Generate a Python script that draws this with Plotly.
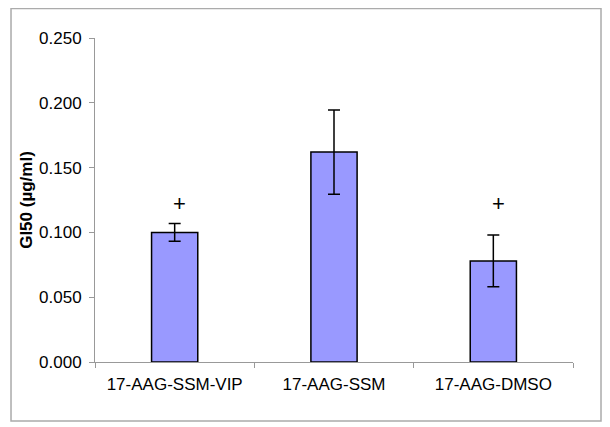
import plotly.graph_objects as go

categories = ["17-AAG-SSM-VIP", "17-AAG-SSM", "17-AAG-DMSO"]
gi50 = [0.100, 0.162, 0.078]
gi50_err = [0.0068, 0.0325, 0.020]
sig_marks = [0.1215, None, 0.1215]
y_ticks = [0.0, 0.05, 0.10, 0.15, 0.20, 0.25]
y_tick_labels = ["0.000", "0.050", "0.100", "0.150", "0.200", "0.250"]

FONT = "Liberation Sans, Arial, sans-serif"

fig = go.Figure()
fig.add_trace(go.Bar(
    x=categories, y=gi50, width=0.29,
    marker=dict(color="#9999FF", line=dict(color="#000000", width=1.5)),
    error_y=dict(type="data", array=gi50_err, visible=True,
                 color="#000000", thickness=1.5, width=6),
    showlegend=False,
))

for c, v in zip(categories, sig_marks):
    if v is not None:
        fig.add_annotation(x=c, y=v, xref="x", yref="y", text="+",
                           showarrow=False, xshift=5, yshift=1,
                           font=dict(family=FONT, size=22, color="#000000"))

fig.add_shape(type="rect", xref="paper", yref="paper",
              x0=-0.1757, x1=1.0586, y0=-0.182, y1=1.091,
              line=dict(color="#ababab", width=1.5), fillcolor="rgba(0,0,0,0)",
              layer="below")

fig.update_layout(
    width=602, height=419,
    margin=dict(l=87, r=37, t=30, b=65, autoexpand=False),
    paper_bgcolor="white", plot_bgcolor="white",
    font=dict(family=FONT, size=17, color="#000000"),
    bargap=0.71,
)
fig.update_xaxes(
    type="category", tickson="boundaries", ticks="outside", ticklen=5,
    tickcolor="#999999", tickwidth=1,
    showline=True, linecolor="#999999", linewidth=1,
    showgrid=False, zeroline=False, automargin=False,
    ticklabelstandoff=7,
    tickfont=dict(family=FONT, size=17, color="#000000"),
    range=[-0.5, 2.5],
)
fig.update_yaxes(
    range=[0, 0.25], tickvals=y_ticks, ticktext=y_tick_labels,
    ticks="outside", ticklen=5, tickcolor="#999999", tickwidth=1,
    showline=True, linecolor="#999999", linewidth=1,
    showgrid=False, zeroline=False, automargin=False,
    ticklabelstandoff=4,
    tickfont=dict(family=FONT, size=17, color="#000000"),
    title=dict(text="<b>GI50 (µg/ml)</b>", standoff=2,
               font=dict(family=FONT, size=17, color="#000000")),
)

fig.write_html("out.html")
